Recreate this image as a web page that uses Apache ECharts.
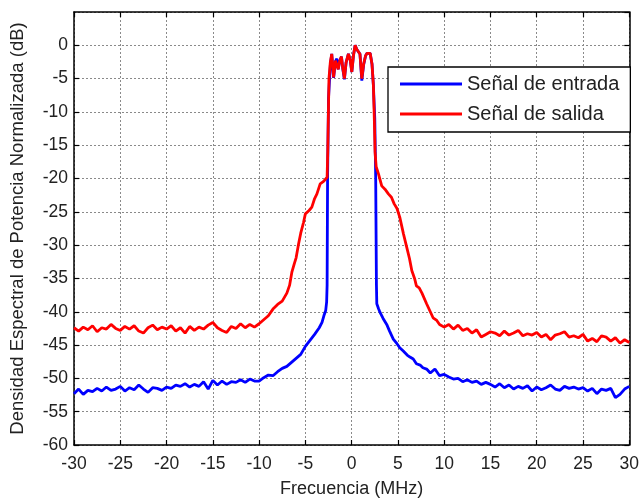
<!DOCTYPE html>
<html><head><meta charset="utf-8">
<script src="https://cdn.jsdelivr.net/npm/echarts@6/dist/echarts.min.js"></script>
<style>html,body{margin:0;padding:0;background:#fff}#c{width:642px;height:503px}</style>
</head><body><div id="c"></div>
<script>
// Señal de entrada (blue)
const freqIn = [-30,-29.5,-29,-28.5,-28,-27.5,-27,-26.5,-26,-25.5,-25,-24.5,-24,-23.5,-23,-22.5,-22,-21.5,-21,-20.5,-20,-19.5,-19,-18.5,-18,-17.5,-17,-16.5,-16,-15.5,-15,-14.5,-14,-13.5,-13,-12.5,-12,-11.5,-11,-10.5,-10,
 -9.5,-9,-8.5,-8,-7.5,-7,-6.5,-6,-5.5,-5,-4.5,-4,-3.5,-3.2,-3.0,-2.8,-2.7,-2.65,-2.6,-2.5,
 -2.3,-2.15,-1.95,-1.75,-1.6,-1.45,-1.3,-1.1,-0.95,-0.78,-0.6,-0.35,-0.15,0.02,0.2,0.38,0.55,0.73,0.9,1.1,1.3,1.5,1.65,1.8,2.0,2.2,2.35,2.5,2.6,2.68,2.72,
 2.9,3.07,3.4,3.79,4.1,4.5,4.9,5.2,5.58,6.0,6.3,6.66,7.0,7.4,7.7,8.1,8.5,9.0,9.5,10,10.5,11,11.5,12,12.5,13,13.5,14,14.5,15,15.5,16,16.5,17,17.5,18,18.5,19,19.5,20,20.5,21,21.5,22,22.5,23,23.5,24,24.5,25,25.5,26,26.5,27,27.5,28,28.5,29,29.5,30];
const valIn = [-52.3,-51.6,-52.4,-51.8,-52.0,-51.5,-51.9,-51.3,-51.8,-51.6,-51.2,-51.9,-51.4,-51.7,-51.0,-51.6,-52.1,-51.4,-51.5,-51.8,-51.3,-51.5,-51.0,-51.2,-50.8,-51.3,-50.9,-51.2,-50.5,-51.6,-50.3,-51.0,-50.4,-50.9,-50.5,-50.6,-50.2,-50.6,-50.1,-50.4,-50.4,
 -49.9,-49.5,-49.6,-49.0,-48.5,-48.2,-47.6,-47.0,-46.4,-45.2,-44.3,-43.4,-42.4,-41.6,-40.6,-39.8,-38.5,-36.0,-20.0,-8.0,
 -3.0,-1.3,-4.9,-2.4,-2.0,-3.6,-2.4,-1.7,-3.6,-5.1,-2.6,-1.3,-2.2,-4.0,-1.5,0,-0.6,-0.8,-1.3,-5.3,-2.9,-1.6,-1.2,-1.1,-1.2,-2.8,-6.0,-11.0,-20.0,-36.0,-38.8,
 -39.5,-40.1,-41.0,-41.9,-42.9,-44.1,-44.8,-45.4,-45.9,-46.5,-46.8,-47.1,-47.8,-48.0,-48.4,-48.6,-49.2,-48.6,-49.6,-49.4,-49.8,-50.1,-50.0,-50.5,-50.2,-50.6,-50.4,-50.9,-50.6,-50.9,-51.3,-50.8,-51.4,-51.0,-51.6,-51.2,-51.5,-51.1,-51.9,-51.3,-51.7,-51.4,-51.0,-51.6,-51.8,-51.2,-51.5,-51.3,-51.6,-51.4,-51.9,-51.5,-52.3,-51.6,-51.8,-51.5,-52.9,-52.4,-51.6,-51.2];

// Señal de salida (red)
const freqOut = [-30,-29.5,-29,-28.5,-28,-27.5,-27,-26.5,-26,-25.5,-25,-24.5,-24,-23.5,-23,-22.5,-22,-21.5,-21,-20.5,-20,-19.5,-19,-18.5,-18,-17.5,-17,-16.5,-16,-15.5,-15,-14.5,-14,-13.5,-13,-12.5,-12,-11.5,-11,-10.5,-10,
 -9.5,-9,-8.5,-8,-7.5,-7,-6.7,-6.45,-6.2,-6.0,-5.73,-5.5,-5.2,-5.0,-4.6,-4.3,-4.0,-3.75,-3.4,-3.0,-2.65,-2.58,-2.45,
 -2.3,-2.15,-1.95,-1.75,-1.6,-1.45,-1.3,-1.1,-0.95,-0.78,-0.6,-0.35,-0.15,0.02,0.2,0.38,0.55,0.73,0.9,1.1,1.3,1.5,1.65,1.85,2.0,2.2,2.35,2.45,2.53,2.65,
 2.9,3.25,3.6,3.97,4.3,4.6,4.9,5.2,5.6,5.95,6.25,6.5,6.8,7.0,7.3,7.6,8.1,8.5,8.8,9.2,9.5,10,10.5,11,11.5,12,12.5,13,13.5,14,14.5,15,15.5,16,16.5,17,17.5,18,18.5,19,19.5,20,20.5,21,21.5,22,22.5,23,23.5,24,24.5,25,25.5,26,26.5,27,27.5,28,28.5,29,29.5,30];
const valOut = [-42.4,-42.9,-42.3,-42.7,-42.1,-43.0,-42.4,-42.6,-41.9,-42.5,-42.8,-42.2,-42.6,-42.1,-42.9,-43.2,-42.4,-42.0,-42.7,-42.3,-42.6,-42.1,-42.9,-42.4,-43.2,-42.2,-42.8,-42.3,-42.6,-42.0,-41.6,-42.4,-42.8,-43.1,-42.2,-42.5,-41.8,-42.4,-41.9,-42.3,-41.8,
 -41.2,-40.6,-39.6,-38.9,-38.4,-37.2,-36.0,-34.0,-32.8,-31.9,-29.8,-28.2,-26.6,-25.3,-24.8,-24.3,-23.0,-22.3,-20.8,-20.4,-19.8,-16.0,-5.0,
 -2.5,-1.3,-4.8,-2.3,-2.0,-3.6,-2.4,-1.7,-3.5,-5.0,-2.6,-1.3,-2.2,-4.0,-1.5,0,-0.6,-0.8,-1.3,-5.0,-2.8,-1.6,-1.2,-1.4,-1.2,-2.8,-6.0,-11.0,-16.0,-18.2,
 -19.3,-21.1,-21.6,-22.3,-22.8,-23.8,-24.5,-25.8,-28.3,-30.3,-32.0,-33.8,-35.0,-36.1,-36.4,-37.2,-38.8,-40.0,-40.9,-41.3,-41.9,-42.3,-41.9,-42.6,-42.0,-42.8,-42.5,-43.2,-42.7,-43.8,-43.4,-43.0,-43.2,-43.6,-42.9,-43.5,-43.2,-42.8,-43.6,-43.3,-43.5,-43.1,-43.8,-43.4,-44.2,-43.5,-43.3,-43.0,-43.8,-43.6,-43.9,-43.4,-44.4,-44.0,-44.5,-43.6,-43.8,-44.4,-43.9,-44.7,-44.2,-44.6];

const seriesNames = ['Señal de entrada', 'Señal de salida'];
const xTitle = 'Frecuencia (MHz)';
const yTitle = 'Densidad Espectral de Potencia Normalizada (dB)';

const pairs = (xs, ys) => xs.map((x, i) => [x, ys[i]]);
const FONT = 'Liberation Sans, Arial, sans-serif';
const gridLine = { show: true, lineStyle: { color: '#8a8a8a', type: [2, 2], width: 1 } };
const axisLine = { show: true, onZero: false, lineStyle: { color: '#000', width: 1.5 } };
const tick = { show: true, inside: true, length: 5, lineStyle: { color: '#000', width: 1.2 } };

const chart = echarts.init(document.getElementById('c'), null, { renderer: 'canvas' });
chart.setOption({
  animation: false,
  backgroundColor: '#fff',
  grid: { left: 74, right: 11, top: 12, bottom: 57, containLabel: false },
  xAxis: [{
    type: 'value', min: -30, max: 30, interval: 5, position: 'bottom',
    name: xTitle, nameLocation: 'middle', nameGap: 35,
    nameTextStyle: { fontFamily: FONT, fontSize: 18, color: '#222' },
    axisLine: axisLine, axisTick: tick, splitLine: gridLine,
    axisLabel: { margin: 10, fontFamily: FONT, fontSize: 17.5, color: '#222' }
  }, {
    type: 'value', min: -30, max: 30, interval: 5, position: 'top',
    axisLine: axisLine, axisTick: tick, splitLine: { show: false }, axisLabel: { show: false }
  }],
  yAxis: [{
    type: 'value', min: -60, max: 5, interval: 5, position: 'left',
    name: yTitle, nameLocation: 'middle', nameGap: 47, nameRotate: 90,
    nameTextStyle: { fontFamily: FONT, fontSize: 18.5, color: '#222' },
    axisLine: axisLine, axisTick: tick, splitLine: gridLine,
    axisLabel: { margin: 6, fontFamily: FONT, fontSize: 17.5, color: '#222', showMaxLabel: false, padding: [6, 0, 0, 0] }
  }, {
    type: 'value', min: -60, max: 5, interval: 5, position: 'right',
    axisLine: axisLine, axisTick: tick, splitLine: { show: false }, axisLabel: { show: false }
  }],
  legend: {
    left: 388, top: 67, orient: 'vertical',
    data: seriesNames,
    icon: 'rect', itemWidth: 62, itemHeight: 3, itemGap: 8,
    padding: [6, 11, 7, 12],
    backgroundColor: '#fff', borderColor: '#000', borderWidth: 1.3, borderRadius: 0,
    textStyle: { fontFamily: FONT, fontSize: 20, color: '#222', lineHeight: 22 }
  },
  series: [{
    name: seriesNames[0], type: 'line', data: pairs(freqIn, valIn),
    showSymbol: false, symbol: 'none', color: '#0000ff',
    lineStyle: { color: '#0000ff', width: 2.8 }, z: 2
  }, {
    name: seriesNames[1], type: 'line', data: pairs(freqOut, valOut),
    showSymbol: false, symbol: 'none', color: '#ff0000',
    lineStyle: { color: '#ff0000', width: 2.8 }, z: 3
  }]
});
</script></body></html>
